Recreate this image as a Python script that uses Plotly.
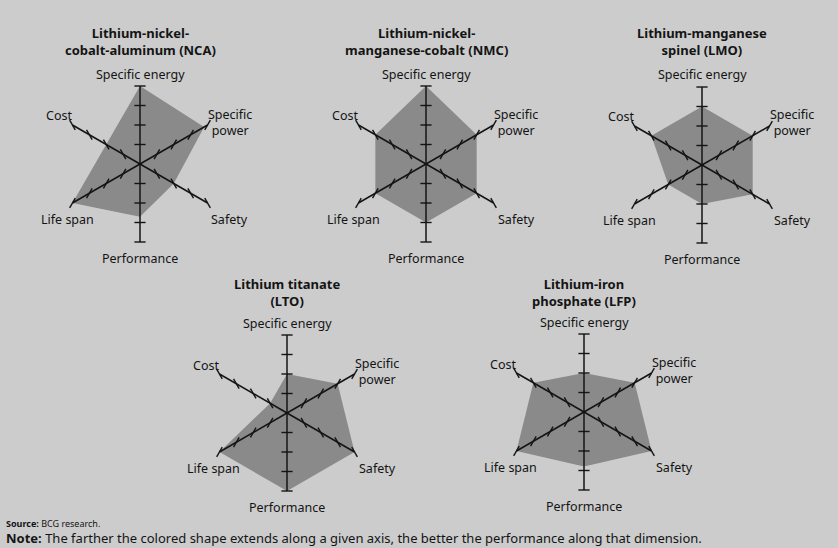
import plotly.graph_objects as go

# ---- data ----
categories = ["Specific energy", "Specific power", "Safety", "Performance", "Life span", "Cost"]
axis_labels = ["Specific energy", "Specific<br>power", "Safety", "Performance", "Life span", "Cost"]
titles = [
    "Lithium-nickel-<br>cobalt-aluminum (NCA)",
    "Lithium-nickel-<br>manganese-cobalt (NMC)",
    "Lithium-manganese<br>spinel (LMO)",
    "Lithium titanate<br>(LTO)",
    "Lithium-iron<br>phosphate (LFP)",
]
nca = [4, 3.8, 2, 2.7, 4, 2]
nmc = [4, 3, 3, 3, 3, 3]
lmo = [3, 3, 3, 2, 2, 3]
lto = [2, 3, 4, 4, 4, 1]
lfp = [2, 3, 4, 2.8, 4, 3]
series = [nca, nmc, lmo, lto, lfp]
tick_values = [1, 2, 3, 4]
axis_max = 4

# ---- layout ----
W, H = 838, 548
R = 78
centers = [(140, 164), (426, 164), (702, 165), (287, 413), (584, 412)]
title_y = [42, 42, 42, 292, 292]
# label offsets (px) from each chart centre
label_offsets = [(0, -90), (90, -42), (90, 55), (0, 94), (-73, 55), (-81, -48)]
BG = "#cccccc"
FILL = "#8a8a8a"
INK = "#141414"
FONT = "Noto Sans"

# tick mark rotation so each tick is perpendicular to its spoke
tick_angles = [90, 30, -30, 90, 30, -30]

fig = go.Figure()
for i, (vals, (cx, cy)) in enumerate(zip(series, centers)):
    pid = "polar" if i == 0 else f"polar{i+1}"
    fig.add_trace(go.Scatterpolar(
        r=vals + [vals[0]], theta=categories + [categories[0]],
        fill="toself", fillcolor=FILL, mode="lines", line=dict(width=0),
        subplot=pid, showlegend=False, hoverinfo="skip"))
    # spokes drawn above the fill
    sr, st = [], []
    for c in categories:
        sr += [0, axis_max, None]
        st += [c, c, None]
    fig.add_trace(go.Scatterpolar(
        r=sr, theta=st, mode="lines", line=dict(color=INK, width=1.5),
        cliponaxis=False, subplot=pid, showlegend=False, hoverinfo="skip"))
    # tick marks on the spokes
    rr, tt, aa = [], [], []
    for c, a in zip(categories, tick_angles):
        for v in tick_values:
            rr.append(v); tt.append(c); aa.append(a)
    fig.add_trace(go.Scatterpolar(
        r=rr, theta=tt, mode="markers", cliponaxis=False,
        marker=dict(symbol="line-ns", size=8, angle=aa,
                    line=dict(width=1.4, color=INK)),
        subplot=pid, showlegend=False, hoverinfo="skip"))
    dom_x = [(cx - R) / W, (cx + R) / W]
    dom_y = [1 - (cy + R) / H, 1 - (cy - R) / H]
    fig.layout[pid] = dict(
        domain=dict(x=dom_x, y=dom_y),
        bgcolor="rgba(0,0,0,0)",
        radialaxis=dict(visible=False, range=[0, axis_max], showgrid=False),
        angularaxis=dict(
            rotation=90, direction="clockwise", showline=False,
            showgrid=False, ticks="", showticklabels=False,
            categoryorder="array", categoryarray=categories),
    )
    fig.add_annotation(
        x=cx / W, y=1 - title_y[i] / H, xref="paper", yref="paper",
        text=f"<b>{titles[i]}</b>", showarrow=False, align="center",
        font=dict(family=FONT, size=13, color=INK),
        xanchor="center", yanchor="middle")
    for lab, (dx, dy) in zip(axis_labels, label_offsets):
        fig.add_annotation(
            x=(cx + dx) / W, y=1 - (cy + dy) / H, xref="paper", yref="paper",
            text=lab, showarrow=False, align="center",
            font=dict(family=FONT, size=12.5, color=INK),
            xanchor="center", yanchor="middle")

fig.add_annotation(
    x=4 / W, y=1 - 523 / H, xref="paper", yref="paper", showarrow=False,
    text="<b>Source:</b> BCG research.", xanchor="left", yanchor="middle",
    font=dict(family=FONT, size=9, color=INK))
fig.add_annotation(
    x=4 / W, y=1 - 538 / H, xref="paper", yref="paper", showarrow=False,
    text="<b>Note:</b> The farther the colored shape extends along a given axis, "
         "the better the performance along that dimension.",
    xanchor="left", yanchor="middle",
    font=dict(family=FONT, size=13, color=INK))

fig.update_layout(
    width=W, height=H, margin=dict(l=0, r=0, t=0, b=0),
    paper_bgcolor=BG, plot_bgcolor=BG,
)
fig.write_html("out.html", config={"displayModeBar": False},
               post_script="document.body.style.margin='0';")
